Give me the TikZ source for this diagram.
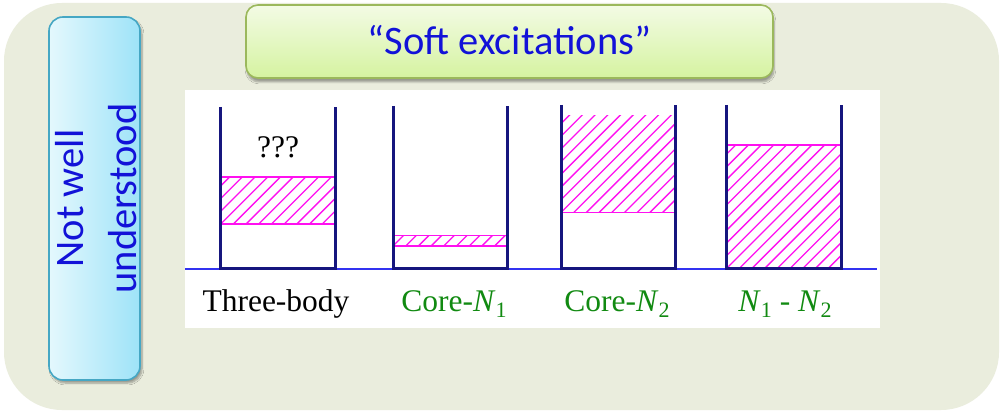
\documentclass[tikz,border=0pt]{standalone}
\usepackage{fontspec}
\setmainfont{Liberation Serif}
\newfontfamily\calib{Carlito}
\usetikzlibrary{shadows.blur}
\definecolor{outerbg}{HTML}{EAEDDD}
\definecolor{bluebL}{HTML}{E4F8FD}
\definecolor{bluebR}{HTML}{9EE3F8}
\definecolor{blueborder}{HTML}{45A7C4}
\definecolor{greenT}{HTML}{F3FBE5}
\definecolor{greenB}{HTML}{D5F3A0}
\definecolor{greenborder}{HTML}{9BB85C}
\definecolor{txtblue}{HTML}{1212D8}
\definecolor{navy}{HTML}{16167E}
\definecolor{floorblue}{HTML}{3232F0}
\definecolor{lblgreen}{HTML}{118A11}
\definecolor{mag}{HTML}{FF10F0}
\tikzset{
  wall/.style={draw=navy, line width=3pt, line join=miter},
  hatchline/.style={draw=mag, line width=1.3pt},
  hatchedge/.style={draw=mag, line width=1.6pt},
  lbl/.style={font=\fontsize{31.5}{34}\selectfont, anchor=base, inner sep=0pt},
  sans/.style={font=\calib\fontsize{40.5}{53}\selectfont, text=txtblue, inner sep=0pt},
}
\newcommand{\sbs}[1]{\raisebox{-0.22em}{\fontsize{22}{22}\selectfont #1}}
\newcommand{\hatchbox}[4]{%
  \begin{scope}
    \clip (#1,#2) rectangle (#3,#4);
    \foreach \k in {-14,...,12} {
      \draw[hatchline] ({#1+\k*12.7},#4) -- ++(170,-170);
    }
  \end{scope}}
\begin{document}
\begin{tikzpicture}[x=1pt,y=-1pt]
\useasboundingbox (0,0) rectangle (1000,411);
\fill[white] (0,0) rectangle (1000,411);
% outer panel
\fill[outerbg, rounded corners=58pt] (4,3) rectangle (999,410);
% blue box
\node[draw=blueborder, line width=1.6pt, rounded corners=14pt, left color=bluebL, right color=bluebR,
      minimum width=91pt, minimum height=363pt, inner sep=0pt,
      blur shadow={shadow xshift=2pt, shadow yshift=-3pt, shadow blur steps=6, shadow opacity=35}]
      (nwbox) at (94.5,198.5) {};
\node[sans, rotate=90, align=center] (nwtext) at (96,198.5) {Not well\\understood};
% green box
\node[draw=greenborder, line width=1.6pt, rounded corners=12pt, top color=greenT, bottom color=greenB,
      minimum width=527pt, minimum height=73pt, inner sep=0pt,
      blur shadow={shadow xshift=1pt, shadow yshift=-4pt, shadow blur steps=6, shadow opacity=35}]
      (softbox) at (509.5,41.5) {};
\node[sans, anchor=base] (softtext) at (509.5,55) {“Soft excitations”};
% white panel
\fill[white] (185,90) rectangle (880,328);
% floor
\draw[floorblue, line width=1.4pt] (185,269) -- (877,269);
% hatched regions
\hatchbox{220.7}{177.3}{335}{224}
\draw[hatchedge] (220.7,177.3) -- (335,177.3) (220.7,224) -- (335,224);
\hatchbox{393}{235.7}{507}{246}
\draw[hatchedge] (393,235.7) -- (507,235.7) (393,246) -- (507,246);
\hatchbox{561}{116}{675}{212.5}
\draw[hatchedge] (561,212.5) -- (675,212.5);
\hatchbox{726}{145.3}{841}{269}
\draw[hatchedge] (726,145.3) -- (841,145.3);
% wells
\draw[wall] (220.7,107) -- (220.7,269) -- (335,269) -- (335,107);
\draw[wall] (393,106) -- (393,269) -- (507,269) -- (507,106);
\draw[wall] (561,105) -- (561,269) -- (675,269) -- (675,105);
\draw[wall] (726,105) -- (726,269) -- (841,269) -- (841,105);
% labels
\node[lbl] (q) at (278,158) {???};
\node[lbl] (l1) at (276,311) {Three-body};
\node[lbl, text=lblgreen] (l2) at (454,311) {Core-\textit{N}\sbs{1}};
\node[lbl, text=lblgreen] (l3) at (617,311) {Core-\textit{N}\sbs{2}};
\node[lbl, text=lblgreen] (l4) at (785,311) {\textit{N}\sbs{1} - \textit{N}\sbs{2}};
\end{tikzpicture}
\end{document}
